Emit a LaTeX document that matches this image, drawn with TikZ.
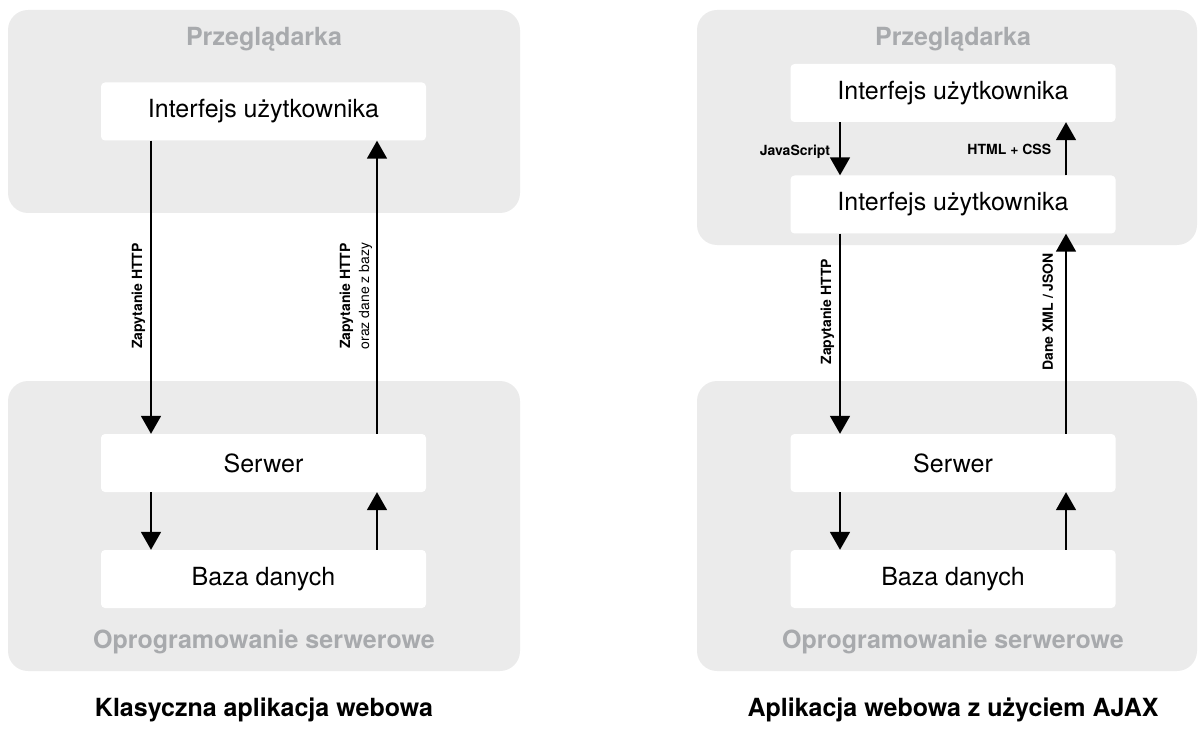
\documentclass[tikz,border=0pt]{standalone}
\usepackage{fontspec}
\setmainfont{TeX Gyre Heros}
\usepackage{tikz}
\usetikzlibrary{arrows.meta}
\definecolor{panelgray}{RGB}{235,235,235}
\definecolor{labelgray}{RGB}{168,170,173}

\begin{document}
\begin{tikzpicture}[x=1pt,y=-1pt,
panel/.style={fill=panelgray, rounded corners=20pt},
box/.style={fill=white, rounded corners=4pt, minimum width=325pt, minimum height=58pt,
    inner sep=0pt, font=\fontsize{25}{30}\selectfont},
area/.style={text=labelgray, font=\fontsize{25}{30}\selectfont\bfseries},
caption/.style={font=\fontsize{25}{30}\selectfont\bfseries},
flow/.style={line width=1.8pt, -{Triangle[width=20pt,length=18pt]}},
tag/.style={font=\fontsize{14}{19}\selectfont\bfseries, inner sep=0pt}]
\useasboundingbox (0,0) rectangle (1198,735);

% klasyczna
\fill[panel] (8,10) rectangle (520,213);
\fill[panel] (8,381) rectangle (520,671);
\node[area] (przegl) at (264,39) {Przeglądarka};
\node[box] (ui) at (263.5,111.5) {Interfejs użytkownika};
\node[box] (srv) at (263.5,463) {Serwer};
\node[box] (db) at (263.5,579) {Baza danych};
\node[area] (oprog) at (264,642) {Oprogramowanie serwerowe};
\node[caption] (klas) at (264,710) {Klasyczna aplikacja webowa};

\draw[flow] ([xshift=-112.5pt]ui.south) -- ([xshift=-112.5pt]srv.north)
    node[tag, pos=0.53, rotate=90, anchor=south, yshift=5pt] {Zapytanie HTTP};
\draw[flow] ([xshift=113.5pt]srv.north) -- ([xshift=113.5pt]ui.south)
    node[tag, pos=0.47, rotate=90, anchor=south, yshift=4pt, align=center]
    {Zapytanie HTTP\\\mdseries oraz dane z bazy};
\draw[flow] ([xshift=-112.5pt]srv.south) -- ([xshift=-112.5pt]db.north);
\draw[flow] ([xshift=113.5pt]db.north) -- ([xshift=113.5pt]srv.south);

% ajax
\fill[panel] (697,10) rectangle (1197,245);
\fill[panel] (697,381) rectangle (1197,671);
\node[area] (przeglB) at (953,39) {Przeglądarka};
\node[box] (uiA) at (953,93) {Interfejs użytkownika};
\node[box] (uiB) at (953,204.5) {Interfejs użytkownika};
\node[box] (srvB) at (953,463) {Serwer};
\node[box] (dbB) at (953,579) {Baza danych};
\node[area] (oprogB) at (953,642) {Oprogramowanie serwerowe};
\node[caption] (ajax) at (953,710) {Aplikacja webowa z użyciem AJAX};

\draw[flow] ([xshift=-113pt]uiA.south) -- ([xshift=-113pt]uiB.north)
    node[tag, midway, left=9pt, yshift=-3pt] {JavaScript};
\draw[flow] ([xshift=113pt]uiB.north) -- ([xshift=113pt]uiA.south)
    node[tag, midway, left=14pt, yshift=-1pt] {HTML + CSS};
\draw[flow] ([xshift=-113pt]uiB.south) -- ([xshift=-113pt]srvB.north)
    node[tag, pos=0.39, rotate=90, anchor=south, yshift=5pt] {Zapytanie HTTP};
\draw[flow] ([xshift=113pt]srvB.north) -- ([xshift=113pt]uiB.south)
    node[tag, pos=0.61, rotate=90, anchor=south, yshift=12pt] {Dane XML / JSON};
\draw[flow] ([xshift=-113pt]srvB.south) -- ([xshift=-113pt]dbB.north);
\draw[flow] ([xshift=113pt]dbB.north) -- ([xshift=113pt]srvB.south);
\end{tikzpicture}
\end{document}
